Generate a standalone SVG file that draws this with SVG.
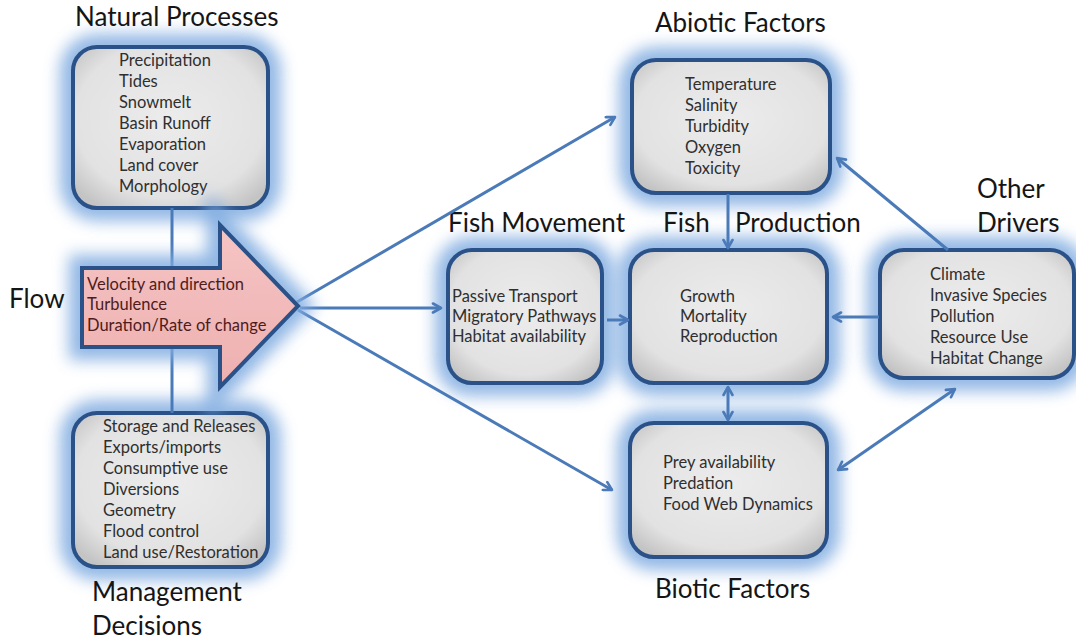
<svg xmlns="http://www.w3.org/2000/svg" width="1076" height="639" viewBox="0 0 1076 639">
<defs>
<filter id="glow" x="-40%" y="-40%" width="180%" height="180%"><feGaussianBlur stdDeviation="8"/></filter>
<radialGradient id="boxfill" cx="50%" cy="45%" r="65%"><stop offset="0" stop-color="#ececec"/><stop offset="0.75" stop-color="#e2e2e2"/><stop offset="1" stop-color="#c4c4c4"/></radialGradient>
<linearGradient id="pink" x1="0" y1="0" x2="0" y2="1"><stop offset="0" stop-color="#f6c4c4"/><stop offset="1" stop-color="#eeb0b0"/></linearGradient>
<marker id="ah" viewBox="0 0 12 12" refX="10" refY="6" markerWidth="12" markerHeight="12" markerUnits="userSpaceOnUse" orient="auto-start-reverse"><path d="M2,1.5 L10,6 L2,10.5" fill="none" stroke="#4a7ab8" stroke-width="2.6" stroke-linecap="round" stroke-linejoin="round"/></marker>
</defs>
<style>
.halo{fill:none;stroke:#7eaae0;stroke-width:26;filter:url(#glow);opacity:0.85}
.box{fill:url(#boxfill);stroke:#2a5188;stroke-width:4}
.t{font-family:Lato,"Liberation Sans",sans-serif;font-size:16.5px;fill:#2f2f2f}
.ti{font-family:Lato,"Liberation Sans",sans-serif;font-size:26px;fill:#151515}
.fl{font-family:Lato,"Liberation Sans",sans-serif;font-size:16.5px;fill:#4e1c1c}
.c{fill:none;stroke:#4a7ab8;stroke-width:3}
</style>
<rect width="1076" height="639" fill="#ffffff"/>

<g id="natural-processes">
<rect class="halo" x="73" y="47" width="195" height="161" rx="24"/>
<rect class="box" x="73" y="47" width="195" height="161" rx="24"/>
<text class="ti" x="75" y="26">Natural Processes</text>
<text class="t" x="119" y="66">Precipitation</text>
<text class="t" x="119" y="87">Tides</text>
<text class="t" x="119" y="108">Snowmelt</text>
<text class="t" x="119" y="129">Basin Runoff</text>
<text class="t" x="119" y="150">Evaporation</text>
<text class="t" x="119" y="171">Land cover</text>
<text class="t" x="119" y="192">Morphology</text>
</g>

<g id="management-decisions">
<rect class="halo" x="73" y="413" width="195" height="154" rx="24"/>
<rect class="box" x="73" y="413" width="195" height="154" rx="24"/>
<text class="t" x="103" y="432">Storage and Releases</text>
<text class="t" x="103" y="453">Exports/imports</text>
<text class="t" x="103" y="474">Consumptive use</text>
<text class="t" x="103" y="495">Diversions</text>
<text class="t" x="103" y="516">Geometry</text>
<text class="t" x="103" y="537">Flood control</text>
<text class="t" x="103" y="558">Land use/Restoration</text>
<text class="ti" x="92" y="601">Management</text>
<text class="ti" x="92" y="635">Decisions</text>
</g>

<g id="abiotic-factors">
<rect class="halo" x="632" y="60" width="198" height="133" rx="24"/>
<rect class="box" x="632" y="60" width="198" height="133" rx="24"/>
<text class="ti" x="655" y="32">Abiotic Factors</text>
<text class="t" x="685" y="90">Temperature</text>
<text class="t" x="685" y="111">Salinity</text>
<text class="t" x="685" y="132">Turbidity</text>
<text class="t" x="685" y="153">Oxygen</text>
<text class="t" x="685" y="174">Toxicity</text>
</g>

<g id="fish-movement">
<rect class="halo" x="448" y="250" width="154" height="133" rx="24"/>
<rect class="box" x="448" y="250" width="154" height="133" rx="24"/>
<text class="ti" x="448" y="232">Fish Movement</text>
<text class="t" x="452" y="302">Passive Transport</text>
<text class="t" x="452" y="322">Migratory Pathways</text>
<text class="t" x="452" y="342">Habitat availability</text>
</g>

<g id="fish-production">
<rect class="halo" x="630" y="250" width="197" height="133" rx="24"/>
<rect class="box" x="630" y="250" width="197" height="133" rx="24"/>
<text class="ti" x="663" y="232">Fish</text>
<text class="ti" x="735" y="232">Production</text>
<text class="t" x="680" y="302">Growth</text>
<text class="t" x="680" y="322">Mortality</text>
<text class="t" x="680" y="342">Reproduction</text>
</g>

<g id="other-drivers">
<rect class="halo" x="880" y="250" width="194" height="128" rx="24"/>
<rect class="box" x="880" y="250" width="194" height="128" rx="24"/>
<text class="ti" x="977" y="198">Other</text>
<text class="ti" x="977" y="232">Drivers</text>
<text class="t" x="930" y="280">Climate</text>
<text class="t" x="930" y="301">Invasive Species</text>
<text class="t" x="930" y="322">Pollution</text>
<text class="t" x="930" y="343">Resource Use</text>
<text class="t" x="930" y="364">Habitat Change</text>
</g>

<g id="biotic-factors">
<rect class="halo" x="630" y="423" width="197" height="134" rx="24"/>
<rect class="box" x="630" y="423" width="197" height="134" rx="24"/>
<text class="t" x="663" y="468">Prey availability</text>
<text class="t" x="663" y="489">Predation</text>
<text class="t" x="663" y="510">Food Web Dynamics</text>
<text class="ti" x="655" y="598">Biotic Factors</text>
</g>

<g id="connectors">
<line class="c" x1="172" y1="208" x2="172" y2="268"/>
<line class="c" x1="172" y1="347" x2="172" y2="413"/>
<line class="c" x1="297" y1="302" x2="615" y2="117" marker-end="url(#ah)"/>
<line class="c" x1="300" y1="308" x2="441" y2="308" marker-end="url(#ah)"/>
<line class="c" x1="298" y1="310" x2="612" y2="490" marker-end="url(#ah)"/>
<line class="c" x1="607" y1="320" x2="628" y2="320" marker-end="url(#ah)"/>
<line class="c" x1="728" y1="194" x2="728" y2="248" marker-end="url(#ah)"/>
<line class="c" x1="879" y1="317" x2="833" y2="317" marker-end="url(#ah)"/>
<line class="c" x1="948" y1="250" x2="837" y2="158" marker-end="url(#ah)"/>
<line class="c" x1="728" y1="387" x2="728" y2="420" marker-start="url(#ah)" marker-end="url(#ah)"/>
<line class="c" x1="838" y1="470" x2="955" y2="389" marker-start="url(#ah)" marker-end="url(#ah)"/>
</g>

<g id="flow">
<path class="halo" d="M82,268 L220,268 L220,225 L298,306 L220,387 L220,347 L82,347 Z"/>
<path d="M82,268 L220,268 L220,225 L298,306 L220,387 L220,347 L82,347 Z" fill="url(#pink)" stroke="#2a5188" stroke-width="4" stroke-linejoin="miter"/>
<text class="ti" x="9" y="308">Flow</text>
<text class="fl" x="87" y="290">Velocity and direction</text>
<text class="fl" x="87" y="310">Turbulence</text>
<text class="fl" x="87" y="331">Duration/Rate of change</text>
</g>
</svg>
